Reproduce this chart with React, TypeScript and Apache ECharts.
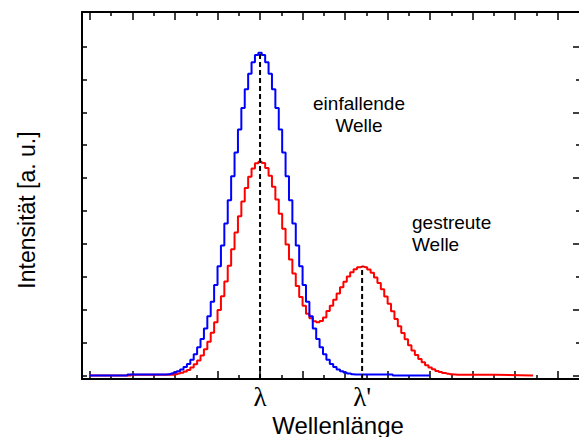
import React, { useEffect, useRef } from "react";
import * as echarts from "echarts";

// ---- data ----
const binWidth = 0.08;
const blueFirstBin = 1.76;
const blueValues = [
  0.03, 0.04, 0.06, 0.09, 0.13, 0.18, 0.26, 0.35, 0.48, 0.65, 0.86, 1.11, 1.43, 1.8,
  2.24, 2.75, 3.32, 3.95, 4.62, 5.33, 6.06, 6.78, 7.48, 8.13, 8.7, 9.17, 9.52, 9.74,
  9.81,
  9.74, 9.52, 9.17, 8.7, 8.13, 7.48, 6.78, 6.06, 5.33, 4.62, 3.95, 3.32, 2.75, 2.24,
  1.8, 1.43, 1.11, 0.86, 0.65, 0.48, 0.35, 0.26, 0.18, 0.13, 0.09, 0.06, 0.04, 0.03,
];
const redFirstBin = 1.92;
const redValues = [
  0.025, 0.039, 0.058, 0.085, 0.12, 0.17, 0.24, 0.34, 0.46, 0.61, 0.8, 1.03, 1.3,
  1.62, 1.99, 2.41, 2.86, 3.34, 3.84, 4.35, 4.84, 5.29, 5.7, 6.04, 6.29, 6.45,
  6.5, 6.46, 6.31, 6.07, 5.74, 5.35, 4.92, 4.46, 3.98, 3.53, 3.1, 2.72, 2.39, 2.12,
  1.88, 1.74, 1.65, 1.62, 1.66, 1.76, 1.96, 2.12, 2.3, 2.49, 2.68, 2.85, 3.01, 3.14,
  3.23, 3.29, 3.31, 3.29, 3.22, 3.12, 2.98, 2.81, 2.62, 2.4, 2.18, 1.95, 1.72, 1.5,
  1.29, 1.1, 0.92, 0.76, 0.62, 0.5, 0.4, 0.31, 0.24, 0.19, 0.14, 0.105, 0.077, 0.056,
  0.04, 0.028, 0.02,
];
const curveStart = 0;
const blueEnd = 8.0;
const redEnd = 10.42;
const lambda = 4.0;
const lambdaPrime = 6.4;
const blueTop = 9.81;
const redSecondTop = 3.31;

const xMin = -0.187;
const xMax = 11.5;
const yMin = -0.106;
const yMax = 11.05;

const xMajorTicks = [0, 1, 2, 3, 4, 5, 6, 7, 8, 9, 10, 11];
const xMinorTicks = [0.5, 1.5, 2.5, 3.5, 4.5, 5.5, 6.5, 7.5, 8.5, 9.5, 10.5];
const yLeftTicks = [0, 1, 2, 3, 4, 5, 6, 7, 8, 9, 10];
const yRightMajorTicks = [0, 2, 4, 6, 8, 10];
const yRightMinorTicks = [1, 3, 5, 7, 9];
const xLabelValues = [lambda, lambdaPrime];
const xLabelTexts = ["λ", "λ'"];

const xTitle = "Wellenlänge";
const yTitle = "Intensität [a. u.]";
const incidentText = "einfallende\nWelle";
const scatteredText = "gestreute\nWelle";

function binned(first: number, values: number[], end: number): number[][] {
  const pts: number[][] = [[curveStart, 0]];
  values.forEach((v, i) => pts.push([first + i * binWidth, v]));
  pts.push([end, 0]);
  return pts;
}

export default function App() {
  const ref = useRef<HTMLDivElement>(null);
  useEffect(() => {
    if (!ref.current) return;
    const chart = echarts.init(ref.current, null, { renderer: "svg" });
    const axisLineStyle = { color: "#000", width: 2 };
    const tickStyle = { color: "#000", width: 1.5 };
    const baseX = {
      type: "value",
      min: xMin,
      max: xMax,
      gridIndex: 0,
      splitLine: { show: false },
      axisLabel: { show: false },
    };
    const baseY = {
      type: "value",
      min: yMin,
      max: yMax,
      gridIndex: 0,
      splitLine: { show: false },
      axisLabel: { show: false },
    };
    chart.setOption({
      animation: false,
      backgroundColor: "#fff",
      grid: { left: 82, top: 12, right: -2, bottom: 58, containLabel: false },
      xAxis: [
        {
          ...baseX,
          position: "bottom",
          axisLine: { show: true, onZero: false, lineStyle: axisLineStyle },
          axisTick: { show: true, inside: true, length: 8, lineStyle: tickStyle, customValues: xMajorTicks },
          axisLabel: {
            show: true,
            customValues: xLabelValues,
            margin: 4,
            fontFamily: "Liberation Serif",
            fontSize: 27,
            color: "#000",
            formatter: (v: number) => {
              const i = xLabelValues.findIndex((x) => Math.abs(x - v) < 1e-6);
              return i >= 0 ? xLabelTexts[i] : "";
            },
          },
        },
        {
          ...baseX,
          position: "bottom",
          axisLine: { show: false, onZero: false },
          axisTick: { show: true, inside: true, length: 4, lineStyle: tickStyle, customValues: xMinorTicks },
        },
        {
          ...baseX,
          position: "top",
          axisLine: { show: true, onZero: false, lineStyle: axisLineStyle },
          axisTick: { show: true, inside: true, length: 8, lineStyle: tickStyle, customValues: xMajorTicks },
        },
        {
          ...baseX,
          position: "top",
          axisLine: { show: false, onZero: false },
          axisTick: { show: true, inside: true, length: 4, lineStyle: tickStyle, customValues: xMinorTicks },
        },
      ],
      yAxis: [
        {
          ...baseY,
          position: "left",
          axisLine: { show: true, onZero: false, lineStyle: axisLineStyle },
          axisTick: { show: true, inside: true, length: 5, lineStyle: tickStyle, customValues: yLeftTicks },
        },
        {
          ...baseY,
          position: "right",
          axisLine: { show: false, onZero: false },
          axisTick: { show: true, inside: true, length: 6, lineStyle: tickStyle, customValues: yRightMajorTicks },
        },
        {
          ...baseY,
          position: "right",
          axisLine: { show: false, onZero: false },
          axisTick: { show: true, inside: true, length: 3, lineStyle: tickStyle, customValues: yRightMinorTicks },
        },
      ],
      series: [
        {
          type: "line",
          name: "gestreute Welle",
          step: "middle",
          symbol: "none",
          data: binned(redFirstBin, redValues, redEnd),
          lineStyle: { color: "#ff0000", width: 2 },
          z: 2,
        },
        {
          type: "line",
          name: "einfallende Welle",
          step: "middle",
          symbol: "none",
          data: binned(blueFirstBin, blueValues, blueEnd),
          lineStyle: { color: "#0000ff", width: 2 },
          z: 3,
        },
        {
          type: "line",
          symbol: "none",
          data: [
            [lambda, yMin],
            [lambda, blueTop],
          ],
          lineStyle: { color: "#000", width: 2, type: [5, 3] },
          z: 4,
        },
        {
          type: "line",
          symbol: "none",
          data: [
            [lambdaPrime, yMin],
            [lambdaPrime, redSecondTop],
          ],
          lineStyle: { color: "#000", width: 2, type: [5, 3] },
          z: 4,
        },
      ],
      graphic: [
        {
          type: "text",
          x: 338,
          y: 425,
          style: {
            text: xTitle,
            fontFamily: "Liberation Sans",
            fontSize: 24,
            fill: "#000",
            textAlign: "center",
            textVerticalAlign: "middle",
          },
        },
        {
          type: "text",
          x: 27,
          y: 210,
          rotation: Math.PI / 2,
          style: {
            text: yTitle,
            fontFamily: "Liberation Sans",
            fontSize: 23,
            fill: "#000",
            textAlign: "center",
            textVerticalAlign: "middle",
          },
        },
        {
          type: "text",
          x: 359,
          y: 114,
          style: {
            text: incidentText,
            fontFamily: "Liberation Sans",
            fontSize: 19,
            lineHeight: 22,
            fill: "#000",
            textAlign: "center",
            textVerticalAlign: "middle",
          },
        },
        {
          type: "text",
          x: 412,
          y: 233,
          style: {
            text: scatteredText,
            fontFamily: "Liberation Sans",
            fontSize: 19,
            lineHeight: 22,
            fill: "#000",
            textAlign: "left",
            textVerticalAlign: "middle",
          },
        },
      ],
    });
    return () => chart.dispose();
  }, []);
  return (
    <div
      ref={ref}
      style={{ position: "fixed", left: 0, top: 0, width: 579, height: 437, background: "#fff" }}
    />
  );
}
